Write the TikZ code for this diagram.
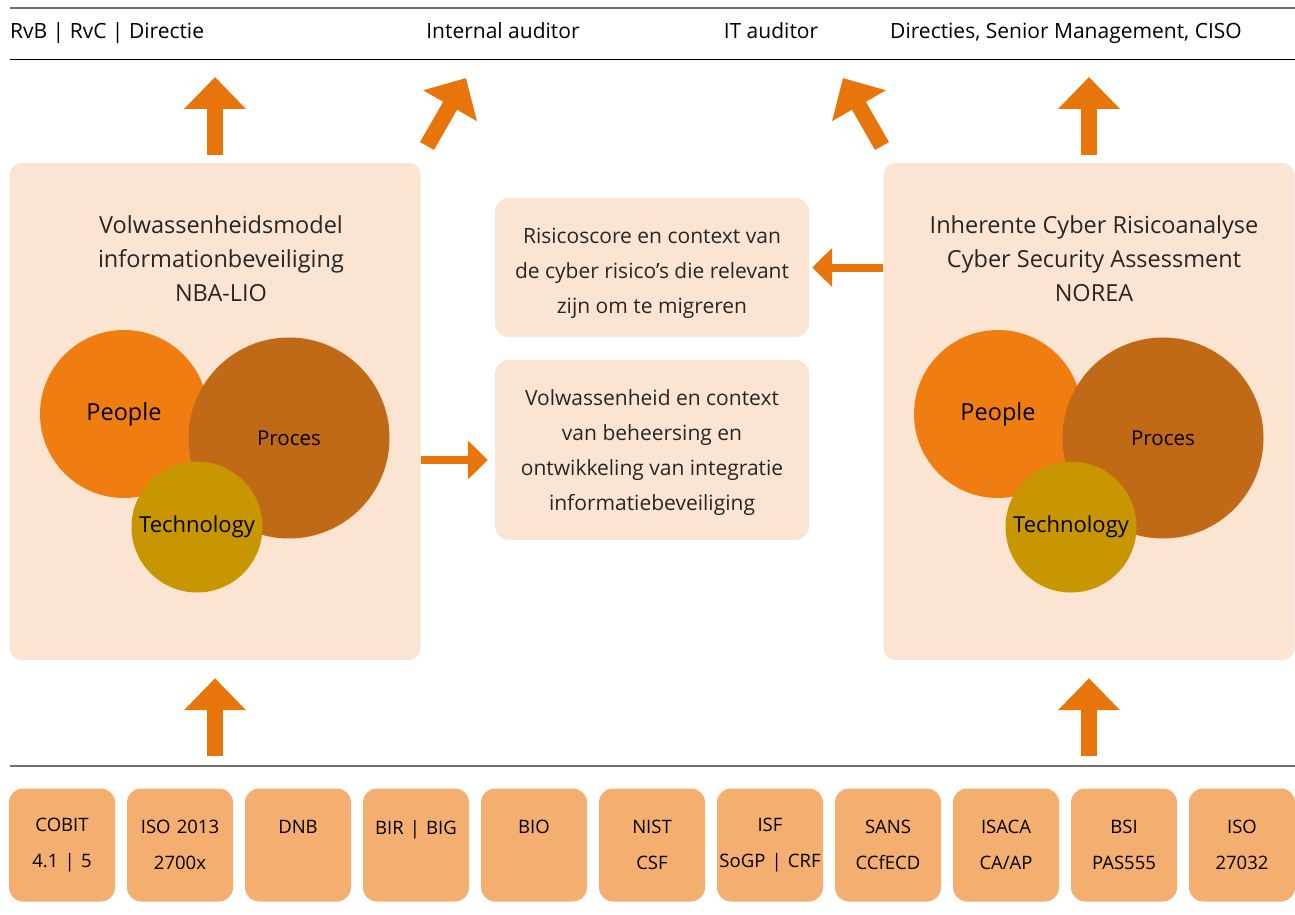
\documentclass[tikz,border=0pt]{standalone}
\usepackage{fontspec}
\setmainfont{Open Sans}
\usetikzlibrary{arrows.meta,positioning}

\definecolor{peach}{HTML}{FCE4D2}
\definecolor{normtan}{HTML}{F4AE70}
\definecolor{arroworange}{HTML}{E8740C}
\definecolor{peopleorange}{HTML}{F07D12}
\definecolor{procesbrown}{HTML}{C06A18}
\definecolor{techgold}{HTML}{C89600}
\definecolor{rulegray}{HTML}{707070}

\tikzset{
  bigbox/.style={fill=peach, rounded corners=12pt, minimum width=411pt, minimum height=497pt},
  midbox/.style={fill=peach, rounded corners=14pt, minimum width=314pt},
  midtext/.style={align=center, font=\fontsize{21}{35}\selectfont, text=black!85},
  boxtitle/.style={align=center, font=\fontsize{23.5}{34}\selectfont, text=black!85},
  normbox/.style={fill=normtan, rounded corners=14pt, inner xsep=0pt, text width=106pt, minimum height=113pt,
    align=center, font=\fontsize{18.5}{36}\selectfont},
  header/.style={font=\fontsize{21}{24}\selectfont, inner sep=0pt},
  circ/.style={circle, inner sep=0pt},
  bigarrow/.style={arroworange, line width=16pt, -{Triangle[width=60pt,length=32pt]}},
  smallarrow/.style={arroworange, line width=8pt, -{Triangle[width=38pt,length=20pt]}}
}

\begin{document}
\begin{tikzpicture}[x=1pt,y=-1pt]
  \useasboundingbox (0,0) rectangle (1295,915);

  % header
  \draw[rulegray, line width=1.2pt] (10,8) -- (1295,8);
  \draw[black, line width=0.8pt] (10,59) -- (1295,59);
  \node[header, anchor=base west] (rvb) at (10,39) {RvB | RvC | Directie};
  \node[header, anchor=base] (intaud) at (503,39) {Internal auditor};
  \node[header, anchor=base] (itaud) at (771,39) {IT auditor};
  \node[header, anchor=base] (dirs) at (1066,39) {Directies, Senior Management, CISO};

  % big boxes
  \node[bigbox] (nba) at (215,411.5) {};
  \node[bigbox] (norea) at (1089,411.5) {};
  \node[boxtitle] (nbatitle) at (221,259) {Volwassenheidsmodel\\informationbeveiliging\\NBA-LIO};
  \node[boxtitle] (noreatitle) at (1094,259) {Inherente Cyber Risicoanalyse\\Cyber Security Assessment\\NOREA};

  % circles left
  \node[circ, fill=peopleorange, minimum size=168pt, font=\fontsize{23.5}{26}\selectfont] (people1) at (124,414) {People};
  \node[circ, fill=procesbrown, minimum size=201pt, font=\fontsize{20.5}{24}\selectfont] (proces1) at (289,438) {Proces};
  \node[circ, fill=techgold, minimum size=131pt, font=\fontsize{22}{24}\selectfont] (tech1) at (197,527) {Technology};

  % circles right
  \node[circ, fill=peopleorange, minimum size=168pt, font=\fontsize{23.5}{26}\selectfont] (people2) at (998,414) {People};
  \node[circ, fill=procesbrown, minimum size=201pt, font=\fontsize{20.5}{24}\selectfont] (proces2) at (1163,438) {Proces};
  \node[circ, fill=techgold, minimum size=131pt, font=\fontsize{22}{24}\selectfont] (tech2) at (1071,527) {Technology};

  % middle boxes
  \node[midbox, minimum height=139pt] (risico) at (652,267.5) {};
  \node[midtext] (risicotext) at ([yshift=-6pt]risico.center) {Risicoscore en context van\\de cyber risico’s die relevant\\zijn om te migreren};
  \node[midbox, minimum height=180pt] (volw) at (652,450) {};
  \node[midtext] (volwtext) at ([yshift=-3pt]volw.center) {Volwassenheid en context\\van beheersing en\\ontwikkeling van integratie\\informatiebeveiliging};

  % arrows
  \coordinate (upA) at (215,77);
  \coordinate (tailB) at (427,146);
  \coordinate (upB) at (466,78);
  \coordinate (tailC) at (882,146);
  \coordinate (upC) at (843,78);
  \coordinate (upD) at (1089,77);
  \coordinate (lowA) at (215,756);
  \coordinate (lowD) at (1089,756);
  \draw[bigarrow, shorten <=8pt] (nba.north) -- (upA);
  \draw[bigarrow] (tailB) -- (upB);
  \draw[bigarrow] (tailC) -- (upC);
  \draw[bigarrow, shorten <=8pt] (norea.north) -- (upD);
  \draw[bigarrow, shorten >=18pt] (lowA) -- (nba.south);
  \draw[bigarrow, shorten >=18pt] (lowD) -- (norea.south);
  \draw[smallarrow, shorten >=3pt] (norea.west |- risico.east) -- (risico.east);
  \draw[smallarrow, shorten >=7pt] ([yshift=-10pt]nba.east |- volw.west) -- ([yshift=-10pt]volw.west);

  % norms
  \draw[rulegray, line width=1.2pt] (10,766) -- (1295,766);
  \node[normbox] (n1) at (62,845) {COBIT\\4.1 | 5};
  \node[normbox, right=11.6pt of n1] (n2) {ISO 2013\\2700x};
  \node[normbox, right=11.6pt of n2] (n3) {DNB\\\mbox{}};
  \node[normbox, right=11.6pt of n3] (n4) {BIR | BIG\\\mbox{}};
  \node[normbox, right=11.6pt of n4] (n5) {BIO\\\mbox{}};
  \node[normbox, right=11.6pt of n5] (n6) {NIST\\CSF};
  \node[normbox, right=11.6pt of n6] (n7) {ISF\\SoGP | CRF};
  \node[normbox, right=11.6pt of n7] (n8) {SANS\\CCfECD};
  \node[normbox, right=11.6pt of n8] (n9) {ISACA\\CA/AP};
  \node[normbox, right=11.6pt of n9] (n10) {BSI\\PAS555};
  \node[normbox, right=11.6pt of n10] (n11) {ISO\\27032};
\end{tikzpicture}
\end{document}
